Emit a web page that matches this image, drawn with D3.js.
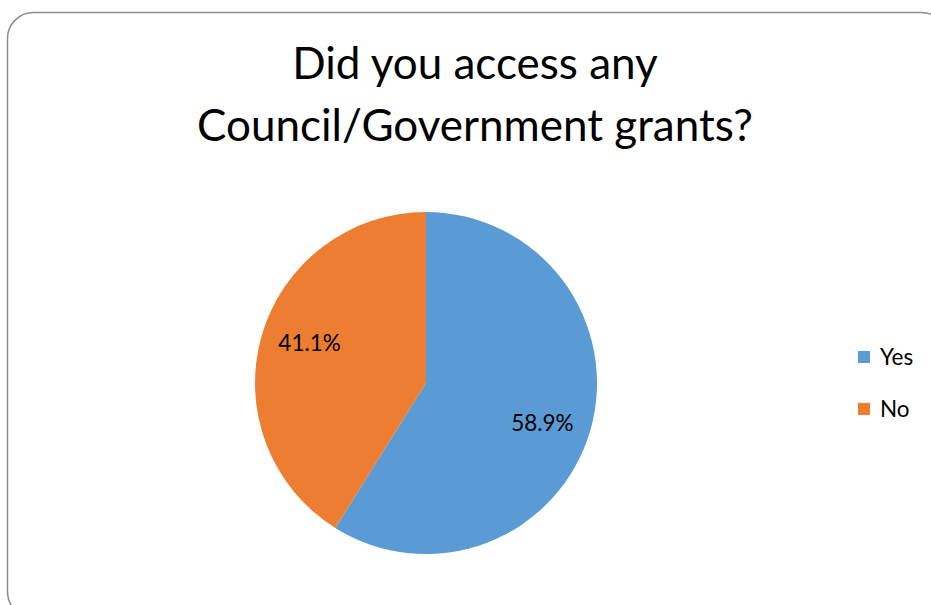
<!DOCTYPE html>
<html>
<head>
<meta charset="utf-8">
<script src="https://cdn.jsdelivr.net/npm/d3@7"></script>
<style>
  html, body { margin: 0; padding: 0; background: #fff; }
  svg { display: block; font-family: Lato, "Open Sans", sans-serif; }
</style>
</head>
<body>
<svg id="chart" width="931" height="605"></svg>
<script>
// Survey answers
const categories = ["Yes", "No"];
const shares = [58.9, 41.1];
const colors = ["#5B9BD5", "#ED7D31"];
const titleLines = ["Did you access any", "Council/Government grants?"];

const svg = d3.select("#chart");

// Chart frame with rounded corners (runs past the right and bottom edges)
svg.append("rect")
  .attr("x", 7.5).attr("y", 12.5)
  .attr("width", 940).attr("height", 605)
  .attr("rx", 26).attr("ry", 26)
  .attr("fill", "#fff")
  .attr("stroke", "#8c8c8c")
  .attr("stroke-width", 1.5);

// Title
svg.append("g").selectAll("text")
  .data(titleLines)
  .join("text")
  .attr("x", 475)
  .attr("y", (d, i) => 79 + i * 62)
  .attr("text-anchor", "middle")
  .attr("font-size", 44)
  .attr("fill", "#000")
  .text(d => d);

// Pie
const cx = 426, cy = 383, r = 171;
const data = categories.map((c, i) => ({ cat: c, value: shares[i], color: colors[i] }));
const pie = d3.pie().sort(null).value(d => d.value);
const arcs = pie(data);
const arc = d3.arc().innerRadius(0).outerRadius(r);
const labelR = r * 0.72;
const labelTurn = 3 * Math.PI / 180; // slight clockwise shift of the data labels
const labelPos = d => {
  const a = (d.startAngle + d.endAngle) / 2 + labelTurn;
  return [Math.sin(a) * labelR, -Math.cos(a) * labelR];
};
const fmt = d3.format(".1f");

const g = svg.append("g").attr("transform", `translate(${cx},${cy})`);
g.selectAll("path")
  .data(arcs)
  .join("path")
  .attr("d", arc)
  .attr("fill", d => d.data.color);

g.selectAll("text")
  .data(arcs)
  .join("text")
  .attr("transform", d => `translate(${labelPos(d)})`)
  .attr("dy", "0.35em")
  .attr("text-anchor", "middle")
  .attr("font-size", 22.5)
  .attr("fill", "#000")
  .text(d => fmt(d.data.value) + "%");

// Legend
const legend = svg.append("g").attr("transform", "translate(858,351)");
const items = legend.selectAll("g")
  .data(data)
  .join("g")
  .attr("transform", (d, i) => `translate(0,${i * 52})`);
items.append("rect")
  .attr("width", 12).attr("height", 12)
  .attr("fill", d => d.color);
items.append("text")
  .attr("x", 22).attr("y", 6)
  .attr("dy", "0.36em")
  .attr("font-size", 22.5)
  .attr("fill", "#000")
  .text(d => d.cat);
</script>
</body>
</html>
